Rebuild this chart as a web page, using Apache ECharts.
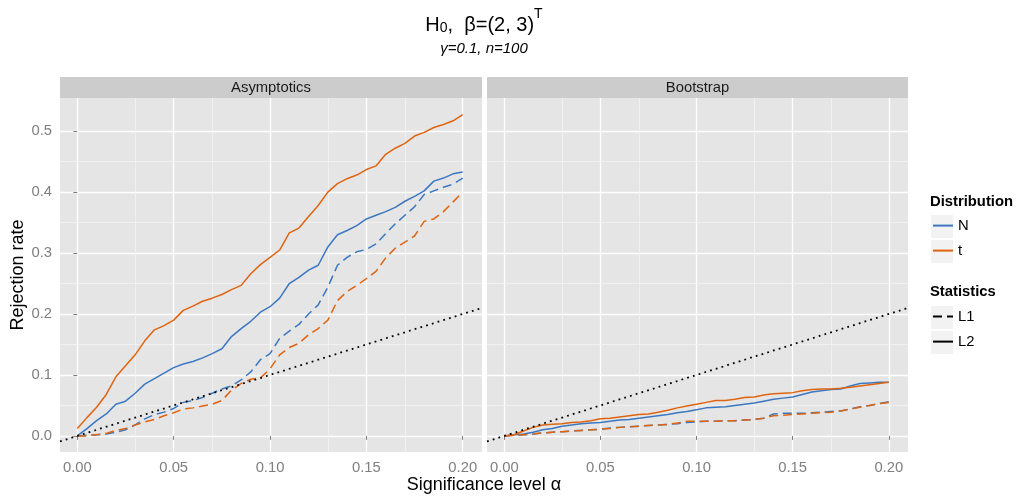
<!DOCTYPE html>
<html>
<head>
<meta charset="utf-8">
<script src="https://cdn.jsdelivr.net/npm/echarts@6/dist/echarts.min.js"></script>
<style>
  html, body { margin: 0; padding: 0; background: #ffffff; }
  #chart { width: 1018px; height: 499px; }
</style>
</head>
<body>
<div id="chart"></div>
<script>
// Significance levels at which the rejection rates were evaluated
const alpha = [0, 0.005, 0.01, 0.015, 0.02, 0.025, 0.03, 0.035, 0.04, 0.045,
  0.05, 0.055, 0.06, 0.065, 0.07, 0.075, 0.08, 0.085, 0.09, 0.095,
  0.1, 0.105, 0.11, 0.115, 0.12, 0.125, 0.13, 0.135, 0.14, 0.145,
  0.15, 0.155, 0.16, 0.165, 0.17, 0.175, 0.18, 0.185, 0.19, 0.195, 0.2];

// Asymptotic tests
const asymN_L2 = [0, 0.012, 0.025, 0.036, 0.052, 0.057, 0.07, 0.085, 0.094, 0.103,
  0.112, 0.118, 0.122, 0.128, 0.135, 0.143, 0.163, 0.176, 0.188, 0.203,
  0.212, 0.226, 0.25, 0.26, 0.272, 0.28, 0.31, 0.33, 0.337, 0.345,
  0.356, 0.362, 0.368, 0.375, 0.385, 0.393, 0.402, 0.418, 0.423, 0.43, 0.433];
const asymN_L1 = [0, 0.001, 0.002, 0.003, 0.006, 0.01, 0.018, 0.028, 0.035, 0.039,
  0.045, 0.055, 0.058, 0.063, 0.07, 0.077, 0.082, 0.092, 0.105, 0.125,
  0.135, 0.16, 0.172, 0.183, 0.2, 0.215, 0.244, 0.28, 0.293, 0.302,
  0.306, 0.315, 0.332, 0.348, 0.362, 0.376, 0.396, 0.402, 0.408, 0.413, 0.423];
const asymT_L2 = [0.012, 0.03, 0.047, 0.068, 0.097, 0.115, 0.133, 0.156, 0.174, 0.181,
  0.19, 0.206, 0.213, 0.221, 0.226, 0.232, 0.24, 0.247, 0.266, 0.281,
  0.293, 0.305, 0.333, 0.341, 0.36, 0.378, 0.4, 0.414, 0.422, 0.428,
  0.437, 0.443, 0.462, 0.472, 0.48, 0.492, 0.498, 0.506, 0.511, 0.517, 0.527];
const asymT_L1 = [0, 0, 0.002, 0.004, 0.009, 0.012, 0.018, 0.023, 0.027, 0.033,
  0.038, 0.044, 0.046, 0.049, 0.052, 0.058, 0.075, 0.086, 0.093, 0.095,
  0.11, 0.133, 0.145, 0.152, 0.166, 0.176, 0.19, 0.222, 0.237, 0.247,
  0.258, 0.27, 0.292, 0.308, 0.318, 0.328, 0.352, 0.356, 0.368, 0.384, 0.4];

// Bootstrap tests
const bootN_L2 = [0, 0.002, 0.003, 0.006, 0.01, 0.012, 0.016, 0.018, 0.02, 0.021,
  0.022, 0.024, 0.026, 0.027, 0.029, 0.031, 0.033, 0.035, 0.038, 0.04,
  0.043, 0.046, 0.047, 0.048, 0.05, 0.052, 0.054, 0.057, 0.06, 0.062,
  0.064, 0.068, 0.072, 0.074, 0.076, 0.077, 0.082, 0.086, 0.087, 0.088, 0.088];
const bootN_L1 = [0, 0.001, 0.002, 0.003, 0.005, 0.006, 0.007, 0.008, 0.009, 0.01,
  0.011, 0.013, 0.014, 0.015, 0.016, 0.017, 0.018, 0.019, 0.02, 0.022,
  0.023, 0.024, 0.024, 0.025, 0.025, 0.026, 0.027, 0.029, 0.036, 0.037,
  0.037, 0.037, 0.038, 0.039, 0.04, 0.041, 0.044, 0.048, 0.05, 0.053, 0.056];
const bootT_L2 = [0, 0.002, 0.008, 0.014, 0.018, 0.019, 0.02, 0.022, 0.023, 0.025,
  0.028, 0.029, 0.031, 0.033, 0.035, 0.036, 0.039, 0.042, 0.046, 0.049,
  0.052, 0.055, 0.058, 0.058, 0.06, 0.063, 0.064, 0.067, 0.069, 0.07,
  0.071, 0.074, 0.076, 0.077, 0.077, 0.078, 0.08, 0.082, 0.084, 0.086, 0.088];
const bootT_L1 = [0, 0.001, 0.002, 0.003, 0.005, 0.006, 0.007, 0.008, 0.009, 0.01,
  0.011, 0.012, 0.014, 0.015, 0.016, 0.017, 0.018, 0.019, 0.021, 0.024,
  0.024, 0.024, 0.024, 0.025, 0.025, 0.026, 0.027, 0.029, 0.033, 0.034,
  0.035, 0.036, 0.037, 0.038, 0.039, 0.041, 0.044, 0.047, 0.05, 0.053, 0.055];

// Nominal level reference (rejection rate = alpha)
const refLine = [[-0.009, -0.009], [0.21, 0.21]];

// Facets, groups and ticks
const panels = ['Asymptotics', 'Bootstrap'];
const distributions = ['N', 't'];
const statistics = ['L1', 'L2'];
const xTicks = [0, 0.05, 0.1, 0.15, 0.2];
const yTicks = [0, 0.1, 0.2, 0.3, 0.4, 0.5];
const xMinor = [0.025, 0.075, 0.125, 0.175];
const yMinor = [0.05, 0.15, 0.25, 0.35, 0.45];

const seriesValues = [
  { N: { L2: asymN_L2, L1: asymN_L1 }, t: { L2: asymT_L2, L1: asymT_L1 } },
  { N: { L2: bootN_L2, L1: bootN_L1 }, t: { L2: bootT_L2, L1: bootT_L1 } }
];

// ---- styling / layout ----
const FONT = '"Liberation Sans", Arial, sans-serif';
const COLORS = { N: '#3B78C1', t: '#E0640F' };
const DASH = [9, 5];
const PANEL_LEFT = [60, 487];
const PANEL_WIDTH = [422, 421];
const PANEL_TOP = 98;
const PANEL_HEIGHT = 354;
const STRIP_H = 21;
const X_RANGE = [-0.009, 0.21];
const Y_RANGE = [-0.0264, 0.5544];

const chart = echarts.init(document.getElementById('chart'), null, { renderer: 'canvas' });

const grids = panels.map((p, i) => ({
  left: PANEL_LEFT[i], top: PANEL_TOP, width: PANEL_WIDTH[i], height: PANEL_HEIGHT,
  show: true, backgroundColor: '#E5E5E5', borderWidth: 0
}));

const xAxes = panels.map((p, i) => ({
  type: 'value', gridIndex: i, min: X_RANGE[0], max: X_RANGE[1],
  axisLine: { show: false },
  axisTick: { show: true, length: 4, customValues: xTicks, lineStyle: { color: '#7F7F7F', width: 1 } },
  axisLabel: { customValues: xTicks, formatter: v => v.toFixed(2), color: '#7F7F7F', fontSize: 14.8, fontFamily: FONT, margin: 8 },
  splitLine: { show: true, lineStyle: { color: '#FFFFFF', width: 1.3 } }
}));

const yAxes = panels.map((p, i) => ({
  type: 'value', gridIndex: i, min: Y_RANGE[0], max: Y_RANGE[1],
  axisLine: { show: false },
  axisTick: { show: i === 0, length: 4, customValues: yTicks, lineStyle: { color: '#7F7F7F', width: 1 } },
  axisLabel: { show: i === 0, customValues: yTicks, formatter: v => v.toFixed(1), color: '#7F7F7F', fontSize: 14.8, fontFamily: FONT, margin: 8 },
  splitLine: { show: true, lineStyle: { color: '#FFFFFF', width: 1.3 } },
  name: i === 0 ? 'Rejection rate' : '',
  nameLocation: 'middle', nameRotate: 90, nameGap: 31,
  nameTextStyle: { fontSize: 18, color: '#000000', fontFamily: FONT }
}));

const series = [];
// minor grid lines, one helper per panel
panels.forEach((p, i) => {
  series.push({
    type: 'line', name: 'minor-grid-' + i, xAxisIndex: i, yAxisIndex: i, data: [],
    silent: true, z: 1,
    markLine: {
      silent: true, symbol: 'none', animation: false, z: 1,
      label: { show: false },
      lineStyle: { color: '#F2F2F2', width: 0.8, type: 'solid' },
      emphasis: { disabled: true },
      data: xMinor.map(v => ({ xAxis: v })).concat(yMinor.map(v => ({ yAxis: v })))
    }
  });
});
// rejection-rate curves
panels.forEach((p, i) => {
  distributions.forEach(d => {
    ['L2', 'L1'].forEach(s => {
      const vals = seriesValues[i][d][s];
      series.push({
        type: 'line', name: d, xAxisIndex: i, yAxisIndex: i,
        data: alpha.map((a, k) => [a, vals[k]]),
        symbol: 'none', showSymbol: false, smooth: false, silent: true, z: 3,
        itemStyle: { color: COLORS[d] },
        lineStyle: { color: COLORS[d], width: 1.5, type: s === 'L1' ? DASH : 'solid', cap: 'butt' }
      });
    });
  });
  series.push({
    type: 'line', name: 'nominal-' + i, xAxisIndex: i, yAxisIndex: i, data: refLine,
    symbol: 'none', showSymbol: false, silent: true, z: 4,
    itemStyle: { color: '#000000' },
    lineStyle: { color: '#000000', width: 1.8, type: [1.8, 4.2], cap: 'butt' }
  });
});
// statistic keys for the line-type legend
statistics.forEach(s => {
  series.push({
    type: 'line', name: s, xAxisIndex: 0, yAxisIndex: 0, data: [],
    symbol: 'none', showSymbol: false, silent: true,
    itemStyle: { color: '#000000' },
    lineStyle: { color: '#000000', width: 1.5, type: s === 'L1' ? DASH : 'solid' }
  });
});

// legend keys show only the line sample (symbol hidden)
const legendBase = {
  orient: 'vertical', left: 932, itemWidth: 20, itemHeight: 24, itemGap: 5.8, padding: 0,
  selectedMode: false,
  itemStyle: { opacity: 0, borderWidth: 0 },
  textStyle: { fontSize: 14.8, color: '#000000', fontFamily: FONT }
};

const keyBoxes = [214, 239, 305, 330].map(y => ({
  type: 'rect', left: 930, top: y, z: -1,
  shape: { width: 23, height: 24 },
  style: { fill: '#F2F2F2', stroke: '#FFFFFF', lineWidth: 1 }
}));

const strips = [];
panels.forEach((p, i) => {
  strips.push({
    type: 'rect', left: PANEL_LEFT[i], top: PANEL_TOP - STRIP_H,
    shape: { width: PANEL_WIDTH[i], height: STRIP_H },
    style: { fill: '#CCCCCC' }
  });
  strips.push({
    type: 'text', x: PANEL_LEFT[i] + PANEL_WIDTH[i] / 2, y: PANEL_TOP - STRIP_H / 2,
    style: { text: p, fill: '#1A1A1A', font: '14.8px ' + FONT, textAlign: 'center', textVerticalAlign: 'middle' }
  });
});

const texts = [
  { type: 'text', x: 484, y: 485,
    style: { text: 'Significance level \u03b1', fill: '#000000', font: '18px ' + FONT, textAlign: 'center', textVerticalAlign: 'middle' } },
  { type: 'text', x: 930, y: 202,
    style: { text: 'Distribution', fill: '#000000', font: 'bold 14.8px ' + FONT, textAlign: 'left', textVerticalAlign: 'middle' } },
  { type: 'text', x: 930, y: 292,
    style: { text: 'Statistics', fill: '#000000', font: 'bold 14.8px ' + FONT, textAlign: 'left', textVerticalAlign: 'middle' } }
];

chart.setOption({
  animation: false,
  backgroundColor: '#FFFFFF',
  textStyle: { fontFamily: FONT },
  title: {
    text: '{m|H}{sub|0}{m|,  \u03b2=(2, 3)}{sup|T}',
    subtext: '\u03b3=0.1, n=100',
    left: 484, top: 11, textAlign: 'center', padding: 0, itemGap: 2,
    textStyle: {
      fontWeight: 'normal',
      rich: {
        m: { fontSize: 20, lineHeight: 24, fontWeight: 'normal', color: '#000000', fontFamily: FONT, verticalAlign: 'bottom' },
        sub: { fontSize: 14, lineHeight: 14, fontWeight: 'normal', color: '#000000', fontFamily: FONT, verticalAlign: 'bottom', padding: [0, 0, 0, 0] },
        sup: { fontSize: 14, lineHeight: 14, fontWeight: 'normal', color: '#000000', fontFamily: FONT, verticalAlign: 'bottom', padding: [0, 0, 14, 0] }
      }
    },
    subtextStyle: { fontSize: 15, fontStyle: 'italic', color: '#000000', fontFamily: FONT }
  },
  grid: grids,
  xAxis: xAxes,
  yAxis: yAxes,
  legend: [
    Object.assign({}, legendBase, { top: 216, data: distributions }),
    Object.assign({}, legendBase, { top: 307, data: statistics })
  ],
  graphic: keyBoxes.concat(strips, texts),
  series: series
});
</script>
</body>
</html>
